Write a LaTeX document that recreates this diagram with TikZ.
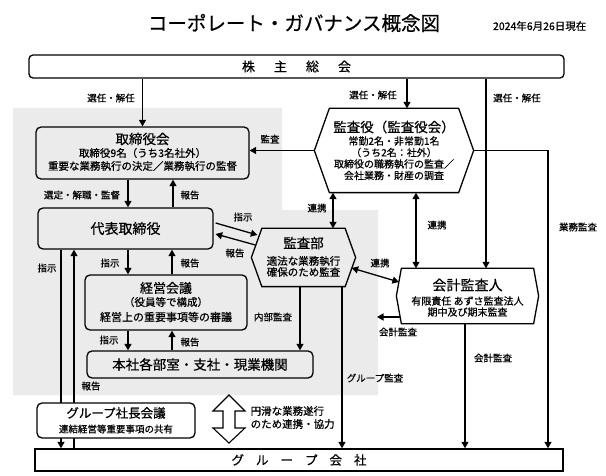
\documentclass[tikz,border=0pt]{standalone}
\usepackage{fontspec}
\setmainfont{Noto Sans CJK JP}[FakeBold=0.6]
\usetikzlibrary{arrows.meta,calc}

\begin{document}
\begin{tikzpicture}[x=1pt,y=-1pt,line width=1.3pt,
	>={Triangle[length=6.5pt,width=7pt]},
	box/.style={draw, rounded corners=5pt, inner sep=0pt},
	hexa/.style={inner sep=0pt},
	ttl/.style={font=\fontsize{13.5}{15}\selectfont, inner sep=0pt},
	sml/.style={font=\fontsize{10}{12}\selectfont, inner sep=0pt},
	lbl/.style={font=\fontsize{9.5}{11}\selectfont, inner sep=0pt}]
				\useasboundingbox (0,0) rectangle (606,476);
				% background of the company side
				\fill[black!8] (13,108) -- (282,108) -- (282,210) -- (378,210) -- (378,395) -- (13,395) -- cycle;
				% title
				\node[inner sep=0pt, font=\fontsize{19.5}{22}\selectfont] (title) at (294,23) {コーポレート・ガバナンス概念図};
				\node[inner sep=0pt, anchor=east, font=\fontsize{10.5}{12}\selectfont] (date) at (587,26) {2024年6月26日現在};
				
				% shareholders and group companies
				\node[box, rounded corners=4pt, minimum width=535pt, minimum height=23pt, font=\fontsize{13}{15}\selectfont] (soukai) at (296.5,66.5) {株\hspace{19pt}主\hspace{19pt}総\hspace{19pt}会};
				\node[draw, inner sep=0pt, minimum width=528pt, minimum height=22pt, font=\fontsize{12.5}{14}\selectfont] (grpkai) at (299,460) {グ\hspace{12pt}ル\hspace{12pt}ー\hspace{12pt}プ\hspace{12pt}会\hspace{12pt}社};
				
				% board
				\node[box, minimum width=213pt, minimum height=52pt] (torikai) at (142.5,153) {};
				\node[ttl] (torikai1) at (142.5,139) {取締役会};
				\node[sml, font=\fontsize{10.5}{12}\selectfont] (torikai2) at (142.5,153) {取締役9名（うち3名社外）};
				\node[sml, font=\fontsize{10.5}{12}\selectfont] (torikai3) at (142.5,166) {重要な業務執行の決定／業務執行の監督};
				\node[box, minimum width=175pt, minimum height=41pt, font=\fontsize{14}{16}\selectfont] (daihyo) at (125.5,228.5) {代表取締役};
				\node[box, minimum width=162pt, minimum height=55pt] (keiei) at (166,302.5) {};
				\node[ttl, font=\fontsize{13}{15}\selectfont] (keiei1) at (166,288) {経営会議};
				\node[sml, font=\fontsize{10.5}{12}\selectfont] (keiei2) at (166,302) {（役員等で構成）};
				\node[sml, font=\fontsize{11}{13}\selectfont] (keiei3) at (166,317) {経営上の重要事項等の審議};
				\node[box, minimum width=226pt, minimum height=27pt, font=\fontsize{13.5}{15}\selectfont] (honsha) at (200,364.5) {本社各部室・支社・現業機関};
				
				% auditors
				\node[hexa, minimum width=158pt, minimum height=83pt] (kansayaku) at (394,150.5) {};
				\draw (kansayaku.west) -- ([xshift=15pt]kansayaku.north west) -- ([xshift=-15pt]kansayaku.north east) -- (kansayaku.east) -- ([xshift=-15pt]kansayaku.south east) -- ([xshift=15pt]kansayaku.south west) -- cycle;
				\node[ttl] (kansayaku1) at (394,127) {監査役（監査役会）};
				\node[sml] (kansayaku2) at (394,141) {常勤2名・非常勤1名};
				\node[sml] (kansayaku3) at (394,152.5) {（うち2名：社外）};
				\node[sml] (kansayaku4) at (394,164) {取締役の職務執行の監査／};
				\node[sml] (kansayaku5) at (394,175.5) {会社業務・財産の調査};
				
				\node[hexa, minimum width=103pt, minimum height=57pt] (kansabu) at (303.5,257.5) {};
				\draw (kansabu.west) -- ([xshift=10.5pt]kansabu.north west) -- ([xshift=-10.5pt]kansabu.north east) -- (kansabu.east) -- ([xshift=-10.5pt]kansabu.south east) -- ([xshift=10.5pt]kansabu.south west) -- cycle;
				\node[ttl] (kansabu1) at (303.5,243) {監査部};
				\node[sml, font=\fontsize{10.5}{12}\selectfont] (kansabu2) at (303.5,261) {適法な業務執行};
				\node[sml, font=\fontsize{10.5}{12}\selectfont] (kansabu3) at (303.5,272) {確保のため監査};
				
				\node[hexa, minimum width=141pt, minimum height=54pt] (kaikei) at (467.5,296) {};
				\draw (kaikei.west) -- ([xshift=5pt]kaikei.north west) -- ([xshift=-5pt]kaikei.north east) -- (kaikei.east) -- ([xshift=-5pt]kaikei.south east) -- ([xshift=5pt]kaikei.south west) -- cycle;
				\node[ttl, font=\fontsize{14}{16}\selectfont] (kaikei1) at (467.5,285) {会計監査人};
				\node[sml] (kaikei2) at (467.5,301) {有限責任 あずさ監査法人};
				\node[sml] (kaikei3) at (467.5,312) {期中及び期末監査};
				
				% election
				\draw[->] (torikai.north |- soukai.south) -- (torikai.north);
				\node[lbl] (l1) at (111,98) {選任・解任};
				\draw[->] (407,0 |- soukai.south) -- (407,0 |- kansayaku.north);
				\node[lbl] (l2) at (373,95) {選任・解任};
				\draw[->] (486,0 |- soukai.south) -- (486,0 |- kaikei.north);
				\node[lbl] (l3) at (517,98) {選任・解任};
				
				% board and executives
				\draw[->] (kansayaku.west) -- (kansayaku.west -| torikai.east);
				\node[lbl] (l4) at (270,139) {監査};
				\draw[->] (128,0 |- torikai.south) -- (128,0 |- daihyo.north);
				\node[lbl] (l5) at (82,195) {選定・解職・監督};
				\draw[->] (173,0 |- daihyo.north) -- (173,0 |- torikai.south);
				\node[lbl] (l6) at (190,195) {報告};
				\draw[->] (128,0 |- daihyo.south) -- (128,0 |- keiei.north);
				\node[lbl] (l7) at (110,263) {指示};
				\draw[->] (172,0 |- keiei.north) -- (172,0 |- daihyo.south);
				\node[lbl] (l8) at (190,263) {報告};
				\draw[->] (128,0 |- keiei.south) -- (128,0 |- honsha.north);
				\node[lbl] (l9) at (109,340) {指示};
				\draw[->] (172,0 |- honsha.north) -- (172,0 |- keiei.south);
				\node[lbl] (l10) at (190,342) {報告};
				\draw[->] (61,0 |- daihyo.south) -- (61,0 |- grpkai.north);
				\node[lbl] (l11) at (47,268) {指示};
				\draw[->] (74,0 |- grpkai.north) -- (74,0 |- daihyo.south);
				\node[lbl] (l12) at (91,386) {報告};
				
				% internal audit
				\draw[->] ($(daihyo.east)+(2,-5.5)$) -- ($(kansabu.west)+(6,-22.5)$);
				\node[lbl] (l13) at (243,217) {指示};
				\draw[->] ($(kansabu.west)+(4,-12.5)$) -- ($(daihyo.east)+(2,5.5)$);
				\node[lbl] (l14) at (235,253) {報告};
				\draw[->] (300,0 |- kansabu.south) -- (300,0 |- honsha.north);
				\node[lbl] (l15) at (273,317) {内部監査};
				\draw[->] (342,0 |- kansabu.south) -- (342,0 |- grpkai.north);
				\node[lbl] (l16) at (375,378) {グループ監査};
				
				% cooperation
				\draw[<->] (333,0 |- kansayaku.south) -- (333,0 |- kansabu.north);
				\node[lbl] (l17) at (317,208) {連携};
				\draw[<->] (416,0 |- kansayaku.south) -- (416,0 |- kaikei.north);
				\node[lbl] (l18) at (437,225) {連携};
				\draw[<->] ($(kansabu.east)+(-4,10.5)$) -- ($(kaikei.west)+(2.6,-14)$);
				\node[lbl] (l19) at (380,263) {連携};
				
				% audits of the group
				\coordinate (gyomu) at (548,0 |- kansayaku.east);
				\draw[->] (kansayaku.east) -- (gyomu) -- (gyomu |- grpkai.north);
				\node[lbl] (l20) at (578,227) {業務監査};
				\coordinate (kaikeil) at (377,317);
				\draw[->] ($(kaikei.west)+(4,21)$) -- (kaikeil);
				\node[lbl] (l21) at (398,332) {会計監査};
				\draw[->] (465,0 |- kaikei.south) -- (465,0 |- grpkai.north);
				\node[lbl] (l22) at (493,358) {会計監査};
				
				% group presidents
				\node[box, fill=white, minimum width=158pt, minimum height=35pt] (grpcho) at (116,420.5) {};
				\node[ttl, font=\fontsize{12.5}{14}\selectfont] (grpcho1) at (116,413) {グループ社長会議};
				\node[sml, font=\fontsize{9.5}{11}\selectfont] (grpcho2) at (116,429) {連結経営等重要事項の共有};
				\draw[fill=white, line width=1.1pt] (229,395) -- (245,411) -- (235,411) -- (235,428) -- (245,428) -- (229,443) -- (213,428) -- (223,428) -- (223,411) -- (213,411) -- cycle;
				\node[sml, anchor=west, font=\fontsize{10.5}{12}\selectfont] (kyoryoku1) at (250,411) {円滑な業務遂行};
				\node[sml, anchor=west, font=\fontsize{10.5}{12}\selectfont] (kyoryoku2) at (250,424) {のため連携・協力};
			\end{tikzpicture}
\end{document}
